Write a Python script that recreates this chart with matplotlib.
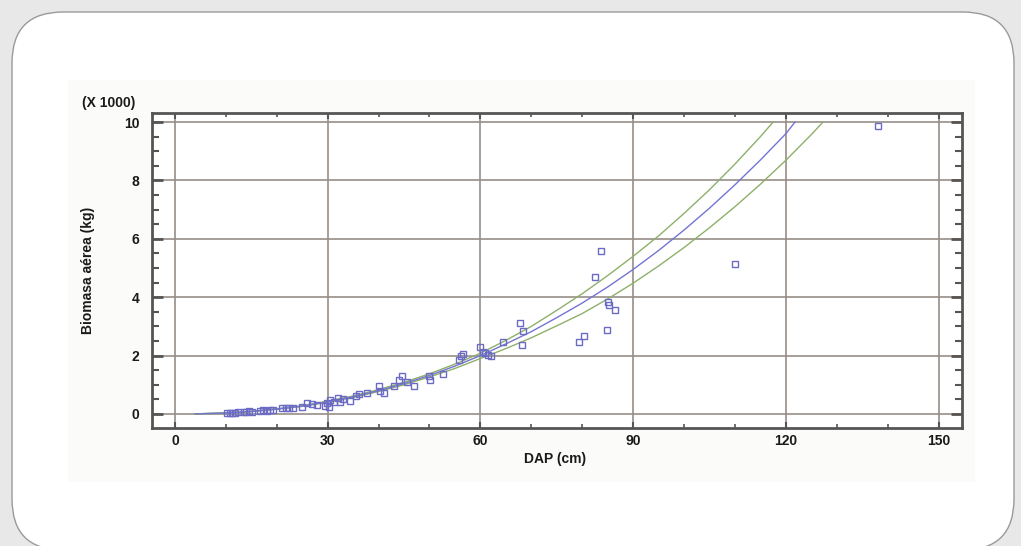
import matplotlib
matplotlib.use("Agg")
import matplotlib.pyplot as plt
from matplotlib.patches import FancyBboxPatch, Rectangle
from matplotlib.ticker import MultipleLocator

plt.rcParams['font.family'] = ['Liberation Sans', 'DejaVu Sans']

# observed trees: DAP (cm) and above-ground biomass (x 1000 kg)
dap = [10.2, 10.8, 11.3, 11.9, 12.4, 13.5, 14.0, 14.6, 15.2, 16.8, 17.4, 18.0, 18.6, 19.3,
       21.0, 21.8, 22.5, 23.2, 25.0, 26.0, 27.0, 28.0, 29.4, 29.8, 30.2, 30.5, 31.2, 32.0,
       32.5, 33.0, 34.4, 35.5, 36.2, 37.7, 40.0, 40.3, 41.0, 43.0, 44.0, 44.6, 45.5, 47.0,
       50.0, 50.2, 52.7, 55.8, 56.2, 56.5, 60.0, 60.5, 61.0, 61.5, 62.0, 64.4, 67.8, 68.4,
       68.2, 79.4, 80.4, 82.5, 83.7, 85.1, 85.3, 86.4, 84.9, 110.0, 138.1]
biomasa = [0.03, 0.04, 0.05, 0.04, 0.06, 0.07, 0.06, 0.09, 0.08, 0.11, 0.12, 0.10, 0.13, 0.14,
           0.19, 0.20, 0.22, 0.20, 0.25, 0.38, 0.33, 0.30, 0.28, 0.36, 0.25, 0.48, 0.42, 0.55,
           0.40, 0.50, 0.45, 0.62, 0.70, 0.73, 0.95, 0.80, 0.72, 0.95, 1.15, 1.30, 1.08, 0.95,
           1.30, 1.15, 1.36, 1.85, 2.00, 2.05, 2.30, 2.12, 2.08, 2.02, 2.00, 2.45, 3.10, 2.85,
           2.36, 2.47, 2.67, 4.70, 5.58, 3.84, 3.73, 3.56, 2.88, 5.14, 9.86]

# fitted model and confidence limits
fit_x = [4, 5, 10, 15, 20, 25, 30, 35, 40, 45, 50, 55, 60, 65, 70, 75, 80, 85, 90, 95,
         100, 105, 110, 115, 120, 121.8]
fit_y = [0.005, 0.007, 0.035, 0.085, 0.17, 0.27, 0.42, 0.59, 0.80, 1.04, 1.32, 1.64, 2.0,
         2.4, 2.82, 3.3, 3.8, 4.35, 4.95, 5.6, 6.3, 7.05, 7.85, 8.7, 9.6, 10.0]
upper_x = [4, 10, 15, 20, 25, 30, 35, 40, 45, 50, 55, 60, 65, 70, 75, 80, 85, 90, 95,
           100, 105, 110, 115, 117.5]
upper_y = [0.006, 0.037, 0.09, 0.177, 0.28, 0.44, 0.615, 0.835, 1.085, 1.375, 1.71, 2.08,
           2.52, 3.0, 3.55, 4.12, 4.74, 5.4, 6.1, 6.87, 7.68, 8.56, 9.5, 10.0]
lower_x = [4, 10, 15, 20, 25, 30, 35, 40, 45, 50, 55, 60, 65, 70, 75, 80, 85, 90, 95,
           100, 105, 110, 115, 120, 125, 127.3]
lower_y = [0.004, 0.033, 0.082, 0.163, 0.26, 0.40, 0.565, 0.77, 1.0, 1.27, 1.56, 1.9,
           2.24, 2.61, 3.02, 3.44, 3.94, 4.48, 5.07, 5.7, 6.38, 7.1, 7.87, 8.69, 9.57, 10.0]

fig = plt.figure(figsize=(10.21, 5.46), dpi=100)
fig.patch.set_facecolor('#e8e8e8')

# white rounded card and the inner picture panel
card = FancyBboxPatch((12 / 1021, -4 / 546), (1014 - 12) / 1021, (546 + 4 - 12) / 546,
                      boxstyle="round,pad=0,rounding_size=0.05",
                      transform=fig.transFigure, facecolor='white',
                      edgecolor='#9a9a9a', linewidth=1.0, mutation_aspect=1021 / 546,
                      zorder=-3)
fig.patches.append(card)
panel = Rectangle((68 / 1021, 1 - 482 / 546), (975 - 68) / 1021, (482 - 80) / 546,
                  transform=fig.transFigure, facecolor='#fbfbfa', edgecolor='none',
                  zorder=-2)
fig.patches.append(panel)

ax = fig.add_axes([152 / 1021, 1 - 428 / 546, 810 / 1021, 315 / 546])
ax.set_zorder(2)
ax.set_facecolor('white')

ax.plot(dap, biomasa, linestyle='none', marker='s', markersize=4.2,
        markerfacecolor='none', markeredgecolor='#6b6bc6', markeredgewidth=1.0, zorder=4)
ax.plot(upper_x, upper_y, color='#8db06a', linewidth=1.0, zorder=3)
ax.plot(lower_x, lower_y, color='#8db06a', linewidth=1.0, zorder=3)
ax.plot(fit_x, fit_y, color='#7474d2', linewidth=1.0, zorder=3)

ax.set_xlim(-4.5, 154.6)
ax.set_ylim(-0.48, 10.31)
ax.xaxis.set_major_locator(MultipleLocator(30))
ax.xaxis.set_minor_locator(MultipleLocator(10))
ax.yaxis.set_major_locator(MultipleLocator(2))
ax.yaxis.set_minor_locator(MultipleLocator(0.5))

ax.grid(True, which='major', color='#978d88', linewidth=1.2)
ax.set_axisbelow(True)

for s in ax.spines.values():
    s.set_color('#555555')
    s.set_linewidth(2.0)

ax.tick_params(axis='both', which='both', direction='in', colors='#555555',
               labelcolor='#1a1a1a', labelsize=10)
ax.tick_params(axis='y', which='major', length=8, width=2, left=True, right=True, pad=9)
ax.tick_params(axis='y', which='minor', length=5, width=1.5, left=True, right=True)
ax.tick_params(axis='x', which='major', length=4, width=1.5, top=True, bottom=True, pad=4)
ax.tick_params(axis='x', which='minor', length=3, width=1.2, top=True, bottom=True)
for lab in ax.get_xticklabels() + ax.get_yticklabels():
    lab.set_fontweight('bold')

fig.text(555 / 1021, 1 - 459 / 546, 'DAP (cm)', ha='center', va='center',
         fontsize=10, fontweight='bold', color='#1a1a1a')
fig.text(88 / 1021, 1 - 270 / 546, 'Biomasa aérea (kg)', ha='center', va='center',
         rotation=90, fontsize=10, fontweight='bold', color='#1a1a1a')
fig.text(82 / 1021, 1 - 103 / 546, '(X 1000)', ha='left', va='center',
         fontsize=10, fontweight='bold', color='#1a1a1a')

fig.savefig('out.png', dpi=100, facecolor=fig.get_facecolor())
